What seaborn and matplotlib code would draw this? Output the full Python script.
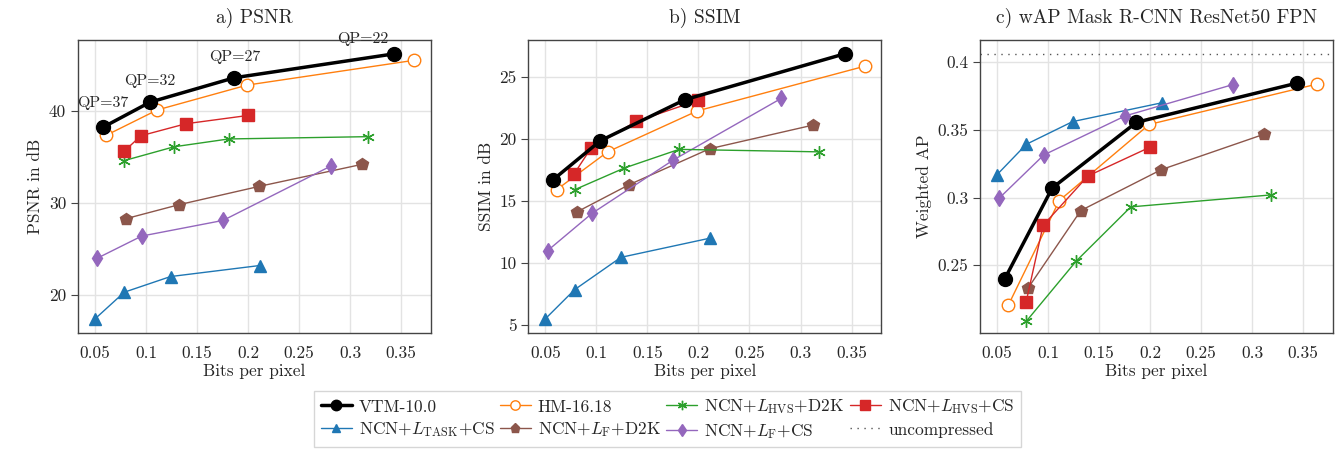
import pandas as pd
import matplotlib.pyplot as plt
import seaborn as sns
from matplotlib.lines import Line2D

sns.set_style("whitegrid")
plt.rcParams['font.family'] = 'serif'
plt.rcParams['font.serif'] = ['cmr10', 'DejaVu Serif']
plt.rcParams['mathtext.fontset'] = 'cm'
plt.rcParams['axes.formatter.use_mathtext'] = True

# bits per pixel (same for all three panels)
bpp_vtm = [0.0575, 0.104, 0.1866, 0.3434]
bpp_hm = [0.061, 0.111, 0.199, 0.363]
bpp_hvs_d2k = [0.0787, 0.1275, 0.181, 0.318]
bpp_hvs_cs = [0.0784, 0.0951, 0.139, 0.1997]
bpp_task_cs = [0.050, 0.0787, 0.124, 0.2115]
bpp_f_d2k = [0.0807, 0.132, 0.211, 0.312]
bpp_f_cs = [0.0523, 0.0958, 0.1755, 0.281]

# PSNR in dB
psnr_vtm = [38.2, 40.95, 43.6, 46.2]
psnr_hm = [37.35, 40.1, 42.8, 45.5]
psnr_hvs_d2k = [34.6, 36.1, 36.95, 37.2]
psnr_hvs_cs = [35.6, 37.3, 38.6, 39.5]
psnr_task_cs = [17.4, 20.3, 22.0, 23.2]
psnr_f_d2k = [28.3, 29.8, 31.8, 34.2]
psnr_f_cs = [24.0, 26.4, 28.1, 34.0]

# SSIM in dB
ssim_vtm = [16.7, 19.85, 23.15, 26.85]
ssim_hm = [15.9, 18.95, 22.25, 25.85]
ssim_hvs_d2k = [15.9, 17.65, 19.15, 18.95]
ssim_hvs_cs = [17.2, 19.3, 21.4, 23.1]
ssim_task_cs = [5.5, 7.85, 10.45, 12.0]
ssim_f_d2k = [14.1, 16.3, 19.2, 21.1]
ssim_f_cs = [11.0, 14.0, 18.3, 23.25]

# weighted AP, Mask R-CNN ResNet50 FPN
wap_vtm = [0.240, 0.307, 0.3555, 0.3843]
wap_hm = [0.2206, 0.2978, 0.3539, 0.3836]
wap_hvs_d2k = [0.2088, 0.2531, 0.2931, 0.3019]
wap_hvs_cs = [0.2228, 0.2795, 0.3159, 0.3371]
wap_task_cs = [0.3169, 0.3393, 0.356, 0.3699]
wap_f_d2k = [0.2336, 0.2904, 0.3206, 0.3468]
wap_f_cs = [0.2997, 0.3314, 0.3602, 0.3833]
wap_uncompressed = 0.4061

qp_labels = ['QP=37', 'QP=32', 'QP=27', 'QP=22']

names = ['VTM-10.0', 'HM-16.18', r'NCN+$L_\mathrm{HVS}$+D2K', r'NCN+$L_\mathrm{HVS}$+CS',
         r'NCN+$L_\mathrm{TASK}$+CS', r'NCN+$L_\mathrm{F}$+D2K', r'NCN+$L_\mathrm{F}$+CS']
bpps = [bpp_vtm, bpp_hm, bpp_hvs_d2k, bpp_hvs_cs, bpp_task_cs, bpp_f_d2k, bpp_f_cs]
psnrs = [psnr_vtm, psnr_hm, psnr_hvs_d2k, psnr_hvs_cs, psnr_task_cs, psnr_f_d2k, psnr_f_cs]
ssims = [ssim_vtm, ssim_hm, ssim_hvs_d2k, ssim_hvs_cs, ssim_task_cs, ssim_f_d2k, ssim_f_cs]
waps = [wap_vtm, wap_hm, wap_hvs_d2k, wap_hvs_cs, wap_task_cs, wap_f_d2k, wap_f_cs]

rows = []
for n, b, p, s, w in zip(names, bpps, psnrs, ssims, waps):
    for i in range(len(b)):
        rows.append({'method': n, 'bpp': b[i], 'psnr': p[i], 'ssim': s[i], 'wap': w[i]})
df = pd.DataFrame(rows)

# line styles per method
styles = {
    names[0]: dict(color='black', marker='o', markersize=10, linewidth=2.5, mfc='black'),
    names[1]: dict(color='#ff7f0e', marker='o', markersize=9, linewidth=1, mfc='white'),
    names[2]: dict(color='#2ca02c', marker=(6, 2, 0), markersize=9, linewidth=1, mfc='#2ca02c', mew=1),
    names[3]: dict(color='#d62728', marker='s', markersize=9, linewidth=1, mfc='#d62728'),
    names[4]: dict(color='#1f77b4', marker='^', markersize=8, linewidth=1, mfc='#1f77b4'),
    names[5]: dict(color='#8c564b', marker='p', markersize=9, linewidth=1, mfc='#8c564b'),
    names[6]: dict(color='#9467bd', marker='d', markersize=8, linewidth=1, mfc='#9467bd'),
}
order = [4, 5, 6, 2, 1, 3, 0]  # VTM drawn on top

fig = plt.figure(figsize=(13.44, 4.51), dpi=100)
lefts = [0.058, 0.3931, 0.7292]
w_ax = 0.2625
axes = [fig.add_axes([l, 0.2623, w_ax, 0.649]) for l in lefts]

panels = [('psnr', 'a) PSNR', 'PSNR in dB', (15.9, 47.7), [20, 30, 40]),
          ('ssim', 'b) SSIM', 'SSIM in dB', (4.38, 27.96), [5, 10, 15, 20, 25]),
          ('wap', 'c) wAP Mask R-CNN ResNet50 FPN', 'Weighted AP', (0.2003, 0.4162), [0.25, 0.3, 0.35, 0.4])]

for ax, (col, title, ylab, ylim, yt) in zip(axes, panels):
    for k in order:
        n = names[k]
        st = dict(styles[n])
        sns.lineplot(data=df[df.method == n], x='bpp', y=col, ax=ax, estimator=None,
                     color=st.pop('color'), marker=st.pop('marker'), markersize=st.pop('markersize'),
                     linewidth=st.pop('linewidth'), markerfacecolor=st.pop('mfc'),
                     markeredgecolor=styles[n]['color'], markeredgewidth=st.pop('mew', 1),
                     legend=False)
    ax.set_xlim(0.0333, 0.379)
    ax.set_ylim(*ylim)
    ax.set_xticks([0.05, 0.1, 0.15, 0.2, 0.25, 0.3, 0.35])
    ax.set_xticklabels(['0.05', '0.1', '0.15', '0.2', '0.25', '0.3', '0.35'])
    ax.set_yticks(yt)
    ax.set_yticklabels([f'{v:g}' for v in yt])
    ax.set_title(title, fontsize=14, pad=12)
    ax.set_xlabel('Bits per pixel', fontsize=12.5, labelpad=2)
    ax.set_ylabel(ylab, fontsize=12.5)
    ax.tick_params(axis='both', labelsize=12.5)
    ax.tick_params(axis='y', left=True, length=5, color='#444444', width=0.8)
    ax.tick_params(axis='x', bottom=False, pad=6)
    ax.grid(True, color='#e3e3e3', linewidth=1)
    for sp in ax.spines.values():
        sp.set_color('#444444')
        sp.set_linewidth(1)

axes[2].axhline(wap_uncompressed, color='#555555', linestyle=(0, (1, 4)), linewidth=1)

# QP annotations on PSNR panel
offsets = [(0, 17), (0, 14), (0, 14), (-32, 8)]
for lab, x, y, off in zip(qp_labels, bpp_vtm, psnr_vtm, offsets):
    axes[0].annotate(lab, (x, y), xytext=off, textcoords='offset pixels',
                     ha='center', va='bottom', fontsize=11.5)

# legend
handles = {}
for n in names:
    st = styles[n]
    handles[n] = Line2D([], [], color=st['color'], marker=st['marker'], markersize=st['markersize'] * 0.75,
                        linewidth=st['linewidth'] if n != names[0] else 2.5,
                        markerfacecolor=st['mfc'], markeredgecolor=st['color'])
unc = Line2D([], [], color='#555555', linestyle=(0, (1, 4)), linewidth=1)
leg_h = [handles[names[0]], handles[names[4]], handles[names[1]], handles[names[5]],
         handles[names[2]], handles[names[6]], handles[names[3]], unc]
leg_l = [names[0], names[4], names[1], names[5], names[2], names[6], names[3], 'uncompressed']
fig.legend(leg_h, leg_l, loc='lower center', bbox_to_anchor=(0.4967, 0.0095), borderaxespad=0,
           ncol=4, fontsize=12.5, frameon=True, edgecolor='#cccccc', fancybox=False,
           handlelength=1.8, columnspacing=0.3, handletextpad=0.4, borderpad=0.35, labelspacing=0.3)

fig.savefig('out.png', dpi=100)
